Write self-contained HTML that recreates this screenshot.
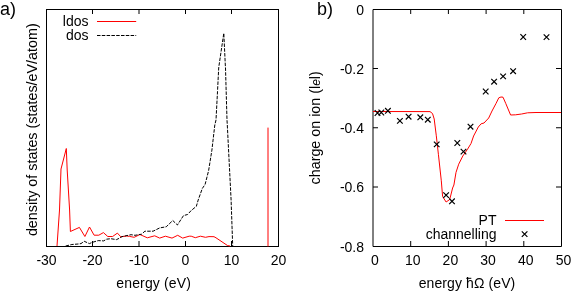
<!DOCTYPE html>
<html><head><meta charset="utf-8"><style>
html,body{margin:0;padding:0;background:#fff;}
svg{display:block;will-change:transform;}
text{font-family:"Liberation Sans",sans-serif;font-size:14px;fill:#000;}
</style></head><body>
<svg width="571" height="292" viewBox="0 0 571 292">
<rect width="571" height="292" fill="#fff"/>
<path d="M92.5,246V241M92.5,9V14M139,246V241M139,9V14M185.5,246V241M185.5,9V14M231.5,246V241M231.5,9V14" stroke="#000" stroke-width="1" fill="none"/>
<path d="M410.7,246V241M410.7,9V14M448.4,246V241M448.4,9V14M486.1,246V241M486.1,9V14M523.8,246V241M523.8,9V14" stroke="#000" stroke-width="1" fill="none"/>
<path d="M373,68.5H378M561,68.5H556M373,127.75H378M561,127.75H556M373,187H378M561,187H556" stroke="#000" stroke-width="1" fill="none"/>
<rect x="46.5" y="9.5" width="232" height="237" fill="none" stroke="#000" stroke-width="1"/>
<path d="M373,9.5H561.5V246.5H373Z" fill="none" stroke="#000" stroke-width="1"/>
<polyline points="57.0,246.0 59.5,210.0 61.0,169.0 66.3,148.5 67.2,170.0 69.6,210.0 70.4,231.5 79.4,227.4 84.9,236.5 89.5,227.0 94.1,235.2 98.8,235.2 103.4,232.6 107.8,236.5 112.6,236.5 117.4,233.1 120.8,236.8 126.5,236.0 129.5,236.4 134.2,237.3 139.9,234.5 147.3,237.8 154.7,235.8 159.7,238.1 165.4,236.2 172.0,238.1 177.7,235.3 182.7,238.1 189.2,236.2 191.2,236.2 195.3,237.7 200.4,236.2 205.5,237.3 209.0,236.6 214.0,236.7 216.0,237.8 227.6,245.6 230.0,246.0" fill="none" stroke="#f00" stroke-width="1"/>
<polyline points="65.6,246.0 71.9,244.5 78.2,244.0 81.0,243.6 84.2,241.3 89.4,243.6 92.2,242.4 98.2,240.6 103.7,240.9 106.5,239.2 110.7,238.7 116.5,239.6 119.2,238.3 122.0,236.6 131.1,234.7 135.0,235.3 141.6,234.2 144.9,231.2 153.1,231.2 159.7,227.9 166.2,226.8 172.8,220.5 177.4,225.0 183.5,215.6 187.6,214.5 191.2,210.5 196.3,206.4 198.2,200.0 202.3,188.5 205.1,184.4 208.6,170.7 211.9,150.1 214.8,125.0 216.0,120.0 217.5,91.7 218.7,68.0 219.1,65.0 223.8,33.2 225.3,65.0 225.5,68.0 227.0,120.0 227.3,125.0 231.1,200.0 232.7,246.0" fill="none" stroke="#000" stroke-width="1" stroke-dasharray="3.5,1.3"/>
<path d="M268,246.5V127.6" stroke="#f00" stroke-width="1"/>
<polyline points="373.0,111.5 430.0,111.6 432.5,113.5 434.2,119.0 436.3,135.8 438.4,154.3 441.3,180.8 442.6,196.5 446.1,202.0 449.6,199.6 450.6,196.0 452.6,188.0 453.9,185.0 456.0,172.4 458.7,164.2 462.8,156.0 467.6,149.1 471.0,143.5 473.6,136.0 478.3,127.0 481.1,123.8 484.0,123.0 488.7,118.0 492.0,111.0 496.1,103.3 498.8,97.8 501.0,97.0 503.0,97.2 505.7,103.3 510.6,115.0 515.6,114.8 521.6,114.0 527.6,112.8 536.0,112.5 561.0,112.5" fill="none" stroke="#f00" stroke-width="1"/>
<path d="M374.7,110.2L380.3,115.8M374.7,115.8L380.3,110.2M378.5,109.7L384.1,115.3M378.5,115.3L384.1,109.7M385.1,108.0L390.7,113.6M385.1,113.6L390.7,108.0M397.1,118.1L402.7,123.7M397.1,123.7L402.7,118.1M405.8,113.9L411.4,119.5M405.8,119.5L411.4,113.9M417.5,114.5L423.1,120.1M417.5,120.1L423.1,114.5M425.0,116.9L430.6,122.5M425.0,122.5L430.6,116.9M433.9,141.6L439.5,147.2M433.9,147.2L439.5,141.6M443.3,192.3L448.9,197.9M443.3,197.9L448.9,192.3M449.2,198.5L454.8,204.1M449.2,204.1L454.8,198.5M454.5,140.2L460.1,145.8M454.5,145.8L460.1,140.2M460.7,148.8L466.3,154.4M460.7,154.4L466.3,148.8M467.7,123.9L473.3,129.5M467.7,129.5L473.3,123.9M482.9,88.7L488.5,94.3M482.9,94.3L488.5,88.7M491.3,78.9L496.9,84.5M491.3,84.5L496.9,78.9M500.3,73.6L505.9,79.2M500.3,79.2L505.9,73.6M510.3,68.4L515.9,74.0M510.3,74.0L515.9,68.4M520.4,34.2L526.0,39.8M520.4,39.8L526.0,34.2M543.7,34.3L549.3,39.9M543.7,39.9L549.3,34.3M521.8,231.3L527.4,236.9M521.8,236.9L527.4,231.3" stroke="#000" stroke-width="1.2" fill="none"/>
<path d="M97,21.5H136.2" stroke="#f00" stroke-width="1"/>
<path d="M97,35.5H136.2" stroke="#000" stroke-width="1" stroke-dasharray="3.5,1.3"/>
<path d="M505,220.5H544" stroke="#f00" stroke-width="1"/>
<path d="M466.3,278.3H471.3" stroke="#000" stroke-width="1"/>
<text x="46.5" y="265.2" text-anchor="middle">-30</text>
<text x="92.5" y="265.2" text-anchor="middle">-20</text>
<text x="139" y="265.2" text-anchor="middle">-10</text>
<text x="185.5" y="265.2" text-anchor="middle">0</text>
<text x="231.5" y="265.2" text-anchor="middle">10</text>
<text x="278.5" y="265.2" text-anchor="middle">20</text>
<text x="375" y="265.2" text-anchor="middle">0</text>
<text x="412.7" y="265.2" text-anchor="middle">10</text>
<text x="450.4" y="265.2" text-anchor="middle">20</text>
<text x="488.1" y="265.2" text-anchor="middle">30</text>
<text x="525.8" y="265.2" text-anchor="middle">40</text>
<text x="563.5" y="265.2" text-anchor="middle">50</text>
<text x="364" y="14.5" text-anchor="end">0</text>
<text x="364" y="73.75" text-anchor="end">-0.2</text>
<text x="364" y="133" text-anchor="end">-0.4</text>
<text x="364" y="192.25" text-anchor="end">-0.6</text>
<text x="364" y="251.5" text-anchor="end">-0.8</text>
<text x="88.5" y="25.8" text-anchor="end">ldos</text>
<text x="88.5" y="39.6" text-anchor="end">dos</text>
<text x="496.5" y="224.6" text-anchor="end">PT</text>
<text x="496.5" y="238.8" text-anchor="end">channelling</text>
<text x="153.7" y="287.8" text-anchor="middle" style="letter-spacing:0.15px">energy (eV)</text>
<text x="467" y="287.8" text-anchor="middle" style="letter-spacing:0.1px">energy <tspan>h</tspan>&#937; (eV)</text>
<text x="0" y="15" style="font-size:18px">a)</text>
<text x="317" y="15" style="font-size:18px">b)</text>
<text transform="translate(37,129.7) rotate(-90)" text-anchor="middle" style="font-size:14.35px">density of states (states/eV/atom)</text>
<text transform="translate(320,127.8) rotate(-90)" text-anchor="middle" style="font-size:14.3px">charge on ion (l<tspan style="font-style:italic;font-size:12px">e</tspan>l)</text>
</svg>
</body></html>
